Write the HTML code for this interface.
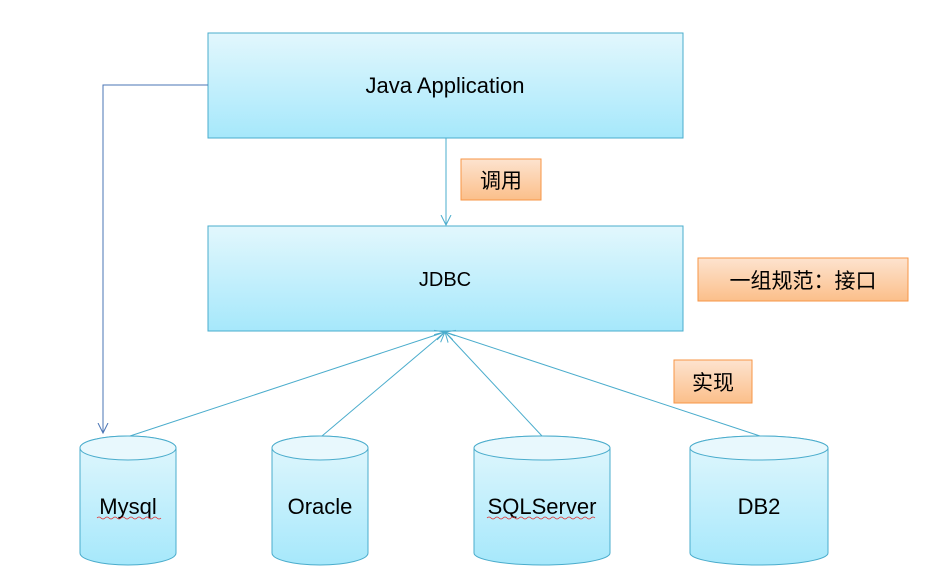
<!DOCTYPE html>
<html><head><meta charset="utf-8"><style>
body{margin:0;background:#fff;width:939px;height:576px;overflow:hidden}
</style></head><body>
<svg width="939" height="576" xmlns="http://www.w3.org/2000/svg" font-family="Liberation Sans, Noto Sans CJK SC, sans-serif">
<defs>
<linearGradient id="b" x1="0" y1="0" x2="0" y2="1"><stop offset="0" stop-color="#e2f7fd"/><stop offset="1" stop-color="#a6e8fb"/></linearGradient>
<linearGradient id="o" x1="0" y1="0" x2="0" y2="1"><stop offset="0" stop-color="#fde3cf"/><stop offset="1" stop-color="#fbbf8a"/></linearGradient>
<marker id="a" markerWidth="12" markerHeight="12" refX="10" refY="6" orient="auto" markerUnits="userSpaceOnUse"><path d="M0,1 L10,6 L0,11" fill="none" stroke="#4aaccc" stroke-width="1"/></marker>
<marker id="a2" markerWidth="12" markerHeight="12" refX="10" refY="6" orient="auto" markerUnits="userSpaceOnUse"><path d="M0,1 L10,6 L0,11" fill="none" stroke="#4a74b4" stroke-width="1"/></marker>
</defs>
<rect x="208" y="33" width="475" height="105" fill="url(#b)" stroke="#4aaccc"/>
<text x="445" y="93" font-size="22" text-anchor="middle">Java Application</text>
<rect x="208" y="226" width="475" height="105" fill="url(#b)" stroke="#4aaccc"/>
<text x="445" y="286" font-size="20" text-anchor="middle">JDBC</text>
<line x1="446" y1="138" x2="446" y2="225" stroke="#4aaccc" marker-end="url(#a)"/>
<polyline points="208,85 103,85 103,433" fill="none" stroke="#4a74b4" marker-end="url(#a2)"/>
<g stroke="#4aaccc" fill="none">
<line x1="130" y1="436" x2="445" y2="332" marker-end="url(#a)"/>
<line x1="322" y1="436" x2="445" y2="332" marker-end="url(#a)"/>
<line x1="542" y1="436" x2="445" y2="332" marker-end="url(#a)"/>
<line x1="760" y1="436" x2="445" y2="332" marker-end="url(#a)"/>
</g>
<rect x="461" y="159" width="80" height="41" fill="url(#o)" stroke="#f79646"/>
<text x="501" y="188" font-size="21" text-anchor="middle">调用</text>
<rect x="698" y="258" width="210" height="43" fill="url(#o)" stroke="#f79646"/>
<text x="803" y="288" font-size="21" text-anchor="middle">一组规范：接口</text>
<rect x="674" y="360" width="78" height="43" fill="url(#o)" stroke="#f79646"/>
<text x="713" y="390" font-size="21" text-anchor="middle">实现</text>
<g stroke="#4aaccc" fill="url(#b)">
<path d="M80,448 A48,12 0 0 1 176,448 V553 A48,12 0 0 1 80,553 Z"/><ellipse cx="128" cy="448" rx="48" ry="12" fill="#e8f8fd"/>
<path d="M272,448 A48,12 0 0 1 368,448 V553 A48,12 0 0 1 272,553 Z"/><ellipse cx="320" cy="448" rx="48" ry="12" fill="#e8f8fd"/>
<path d="M474,448 A68,12 0 0 1 610,448 V553 A68,12 0 0 1 474,553 Z"/><ellipse cx="542" cy="448" rx="68" ry="12" fill="#e8f8fd"/>
<path d="M690,448 A69,12 0 0 1 828,448 V553 A69,12 0 0 1 690,553 Z"/><ellipse cx="759" cy="448" rx="69" ry="12" fill="#e8f8fd"/>
</g>
<g font-size="22" text-anchor="middle">
<text x="128" y="514">Mysql</text>
<text x="320" y="514">Oracle</text>
<text x="542" y="514">SQLServer</text>
<text x="759" y="514">DB2</text>
</g>
<path d="M97,518 q2,-2 4,0 t4,0 t4,0 t4,0 t4,0 t4,0 t4,0 t4,0 t4,0 t4,0 t4,0 t4,0 t4,0 t4,0 t4,0 t4,0" fill="none" stroke="#e03030" stroke-width="0.8"/>
<path d="M487,518 q2,-2 4,0 t4,0 t4,0 t4,0 t4,0 t4,0 t4,0 t4,0 t4,0 t4,0 t4,0 t4,0 t4,0 t4,0 t4,0 t4,0 t4,0 t4,0 t4,0 t4,0 t4,0 t4,0 t4,0 t4,0 t4,0 t4,0 t4,0" fill="none" stroke="#e03030" stroke-width="0.8"/>
</svg>
</body></html>
